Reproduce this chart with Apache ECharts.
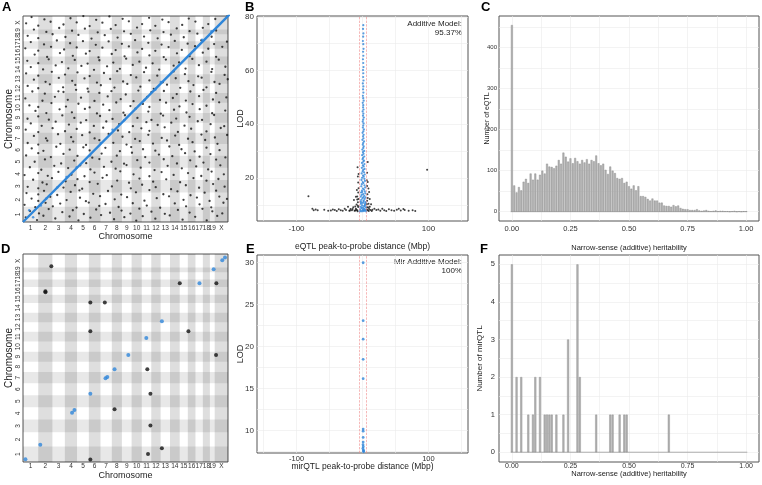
<!DOCTYPE html>
<html><head><meta charset="utf-8">
<script src="https://cdn.jsdelivr.net/npm/echarts@6/dist/echarts.min.js"></script>
<style>html,body{margin:0;padding:0;background:#fff}#c{width:762px;height:485px}</style>
</head><body><div id="c"></div>
<script>
// ---------- DATA ----------
const chromNames = ['1','2','3','4','5','6','7','8','9','10','11','12','13','14','15','16','17','18','19','X'];
const chromLengths = [195.5,182.1,160.0,156.5,151.8,149.7,145.4,129.4,124.6,130.7,122.1,120.1,120.4,124.9,104.0,98.2,95.0,90.7,61.4,171.0];

// Panel A: trans eQTL (probe position x, peak position y) in cumulative Mbp
const aTrans = [
[35,60],[180,25],[262,80],[415,45],[598,70],[712,20],[866,55],[1003,88],[1170,35],[1302,62],[1455,18],[1538,74],[1700,42],[1885,84],[2050,30],[2212,66],[2360,22],[2495,78],[2655,40],
[90,140],[205,110],[330,165],[505,125],[640,150],[781,102],[940,160],[1118,118],[1266,146],[1380,108],[1495,170],[1650,132],[1822,104],[1990,155],[2140,120],[2305,168],[2432,136],[2560,110],[2690,150],
[20,220],[158,190],[290,245],[383,200],[478,236],[688,185],[845,248],[980,206],[1060,230],[1228,192],[1410,240],[1590,210],[1762,182],[1950,238],[2095,200],[2268,226],[2418,188],[2575,246],[2708,205],
[110,300],[196,270],[350,322],[560,280],[732,310],[808,266],[990,330],[1178,290],[1337,318],[1560,272],[1718,305],[1876,328],[2062,284],[2234,312],[2397,270],[2522,325],[2620,295],
[45,370],[196,352],[270,398],[440,345],[612,385],[725,405],[902,360],[1092,396],[1262,350],[1451,380],[1624,408],[1803,355],[1984,392],[2152,342],[2333,375],[2481,400],[2642,360],
[60,450],[196,430],[305,482],[520,440],[668,470],[760,425],[960,488],[1142,455],[1385,430],[1530,476],[1705,445],[1902,420],[2092,470],[2262,438],[2442,485],[2590,452],[2715,428],
[130,540],[250,505],[372,560],[548,520],[700,548],[856,510],[1022,565],[1210,530],[1362,502],[1496,555],[1672,515],[1840,545],[2018,508],[2190,562],[2357,528],[2510,550],[2668,512],
[20,600],[196,625],[318,590],[455,640],[622,605],[790,585],[918,632],[1076,598],[1250,648],[1420,610],[1624,585],[1780,638],[1935,602],[2120,625],[2290,588],[2423,645],[2580,610],
[88,700],[235,668],[402,718],[580,690],[735,725],[866,672],[1040,705],[1190,682],[1330,728],[1512,695],[1690,664],[1858,718],[2040,686],[2225,710],[2378,672],[2535,724],[2700,690],
[150,770],[282,800],[490,748],[658,785],[812,752],[981,805],[1136,770],[1298,745],[1468,790],[1624,760],[1808,802],[1978,748],[2148,788],[2318,760],[2481,798],[2640,752],
[40,850],[196,880],[358,830],[520,870],[700,845],[890,822],[1010,875],[1205,848],[1400,885],[1570,830],[1746,862],[1918,842],[2082,880],[2268,835],[2408,868],[2600,826],[2712,860],
[112,940],[262,910],[428,962],[600,925],[775,955],[856,915],[1058,948],[1245,905],[1390,958],[1542,930],[1700,912],[1880,965],[2036,930],[2205,902],[2357,950],[2525,918],[2668,945],
[60,1010],[196,990],[312,1040],[480,1000],[645,1028],[810,985],[981,1046],[1160,1012],[1330,990],[1500,1035],[1670,1002],[1850,1042],[2006,985],[2178,1020],[2340,1048],[2498,1000],[2660,1030],
[140,1100],[295,1070],[450,1122],[618,1085],[760,1110],[920,1068],[1100,1125],[1278,1090],[1440,1062],[1610,1115],[1782,1075],[1955,1105],[2120,1064],[2292,1118],[2465,1080],[2622,1112],
[35,1180],[196,1150],[380,1200],[540,1160],[690,1190],[856,1145],[1030,1205],[1220,1170],[1365,1148],[1520,1198],[1624,1165],[1820,1210],[1990,1152],[2160,1192],[2357,1158],[2540,1202],[2700,1175],
[100,1260],[240,1230],[420,1282],[590,1245],[742,1270],[910,1228],[1070,1285],[1235,1250],[1412,1225],[1585,1276],[1730,1240],[1905,1270],[2075,1232],[2245,1288],[2410,1250],[2585,1225],
[58,1320],[196,1350],[332,1308],[505,1362],[660,1330],[812,1302],[990,1355],[1150,1318],[1310,1365],[1470,1330],[1650,1305],[1800,1360],[1968,1322],[2140,1345],[2300,1305],[2455,1368],[2640,1335],
[160,1420],[300,1392],[470,1440],[628,1402],[795,1445],[950,1388],[1110,1430],[1290,1398],[1445,1448],[1610,1412],[1770,1385],[1940,1435],[2100,1400],[2270,1442],[2430,1390],[2598,1425],
[82,1490],[196,1470],[365,1520],[552,1475],[712,1512],[856,1465],[1030,1500],[1198,1528],[1380,1482],[1540,1510],[1624,1470],[1838,1525],[2010,1478],[2178,1508],[2357,1486],[2520,1530],[2690,1494],
[30,1580],[250,1550],[410,1600],[575,1562],[745,1590],[918,1548],[1088,1605],[1255,1570],[1420,1545],[1596,1598],[1760,1560],[1925,1585],[2092,1552],[2262,1608],[2440,1566],[2612,1592],
[120,1668],[280,1640],[455,1670],[520,1662],[682,1690],[840,1666],[981,1650],[1136,1672],[1320,1630],[1482,1680],[1650,1660],[1810,1675],[1975,1635],[2150,1668],[2318,1688],[2481,1650],[2650,1672],
[60,1740],[196,1710],[345,1760],[515,1722],[672,1752],[830,1705],[1000,1748],[1175,1718],[1340,1765],[1508,1730],[1680,1702],[1850,1755],[2020,1715],[2190,1750],[2357,1722],[2525,1765],[2700,1730],
[140,1820],[290,1792],[460,1842],[632,1805],[790,1835],[950,1782],[1120,1828],[1286,1796],[1455,1848],[1624,1810],[1795,1786],[1962,1838],[2125,1800],[2295,1845],[2460,1790],[2630,1825],
[40,1900],[196,1870],[370,1920],[540,1885],[700,1912],[856,1866],[1040,1905],[1210,1928],[1385,1878],[1555,1915],[1725,1870],[1935,1925],[2080,1890],[2250,1862],[2420,1918],[2590,1880],
[100,1980],[258,1950],[420,2002],[582,1965],[750,1995],[912,1945],[1080,1990],[1245,1958],[1410,2008],[1580,1972],[1750,1948],[1935,1998],[2088,1962],[2260,2005],[2430,1955],[2600,1985],[2712,1960],
[55,2060],[196,2030],[330,2080],[500,2045],[665,2072],[830,2025],[981,2068],[1160,2038],[1325,2088],[1495,2050],[1665,2028],[1835,2076],[2005,2040],[2175,2085],[2357,2050],[2515,2075],[2680,2035],
[150,2140],[310,2110],[475,2160],[640,2125],[808,2152],[970,2105],[1140,2148],[1305,2118],[1470,2168],[1624,2130],[1808,2108],[1978,2156],[2140,2120],[2310,2165],[2481,2112],[2645,2148],
[30,2220],[196,2190],[360,2240],[528,2205],[690,2232],[856,2185],[1020,2228],[1190,2198],[1360,2245],[1530,2212],[1700,2188],[1870,2236],[2040,2200],[2210,2248],[2380,2215],[2560,2240],[2700,2195],
[100,2300],[270,2270],[435,2320],[605,2285],[770,2312],[935,2265],[1100,2308],[1270,2278],[1440,2325],[1610,2290],[1780,2268],[1950,2315],[2115,2280],[2290,2322],[2455,2275],[2620,2305],
[60,2380],[196,2350],[380,2400],[545,2365],[712,2392],[880,2345],[1050,2388],[1215,2358],[1385,2405],[1555,2370],[1730,2348],[1900,2395],[2065,2362],[2240,2408],[2423,2368],
[140,2460],[300,2430],[465,2480],[630,2445],[795,2472],[960,2425],[1128,2468],[1298,2438],[1465,2485],[1635,2450],[1805,2428],[1975,2475],[2140,2440],[2310,2482],[2481,2448],[2640,2470],[2710,2430],
[40,2540],[196,2510],[355,2560],[520,2525],[690,2552],[856,2505],[1020,2548],[1190,2518],[1360,2565],[1530,2530],[1700,2508],[1870,2555],[2045,2520],[2215,2562],[2380,2530],
[110,2620],[275,2590],[440,2640],[610,2605],[775,2632],[940,2585],[1110,2628],[1280,2598],[1450,2645],[1620,2610],[1790,2588],[1960,2635],[2130,2600],[2300,2642],[2470,2595],[2620,2625],
[60,2700],[230,2670],[400,2712],[570,2680],[740,2705],[905,2665],[1075,2700],[1245,2675],[1415,2715],[1585,2685],[1755,2668],[1925,2710],[2095,2678],[2265,2715],[2435,2690]
];
// Panel A: cis eQTL diagonal ends and off-line cis points
const aCisLine = [[0,0],[2728,2728]];
const aCis = [[80,150],[130,60],[230,210],[300,300],[440,440],[560,575],[690,700],[860,850],[1000,1010],[1150,1180],[1300,1300],[1560,1560],[1700,1690],[1770,1790],[2200,2200],[2300,2330],[2420,2440]];

// Panel B: eQTL peak-to-probe distance (Mbp) vs LOD
const bCis = [
[1.2,76.9],[0.8,75.5],[1.4,73.8],[1.0,72.6],[0.6,71.0],[1.2,69.8],[1.6,68.1],[0.9,67.0],[1.3,65.5],[0.7,64.2],[1.1,62.8],[1.5,61.3],[0.8,60.2],[1.2,59.0],[1.0,57.6],[1.6,56.3],[0.5,55.2],[1.3,54.1],[0.9,53.0],[1.4,51.8],[0.6,50.6],[1.1,49.7],
[1.8,48.8],[0.4,48.0],[1.2,47.1],[0.9,46.3],[1.6,45.5],[0.2,44.8],[1.4,44.0],[0.7,43.2],[2.0,42.5],[1.0,41.7],[0.3,41.0],[1.7,40.3],[1.1,39.5],[0.5,38.8],[2.1,38.1],[1.3,37.4],[0.1,36.8],[1.8,36.1],[0.8,35.5],[1.5,34.8],[-0.2,34.2],[2.3,33.6],[1.0,33.0],[0.4,32.4],[1.9,31.8],[1.2,31.2],[-0.3,30.6],[2.5,30.1],[0.7,29.6],
[1.6,29.0],[-0.5,28.5],[2.6,28.0],[0.9,27.5],[0.1,27.0],[2.2,26.5],[1.4,26.1],[-0.8,25.6],[2.9,25.2],[0.5,24.7],[1.8,24.3],[-1.0,23.8],[3.1,23.4],[1.1,23.0],[0.2,22.5],[2.4,22.1],[-1.3,21.7],[3.4,21.3],[0.8,20.9],[1.9,20.5],[-0.6,20.1],[2.8,19.7],[-1.6,19.3],[3.7,18.9],[0.3,18.5],[1.5,18.1],[-1.1,17.7],[3.0,17.3],[-1.9,16.9],[4.0,16.5],[0.6,16.1],[2.2,15.7],[-0.9,15.3],[3.5,15.0],
[-2.2,14.6],[4.3,14.3],[1.0,14.0],[-1.4,13.7],[2.7,13.4],[-2.6,13.1],[4.6,12.8],[0.0,12.5],[3.2,12.2],[-1.8,11.9],[1.8,11.6],[-3.0,11.3],[4.9,11.0],[0.6,10.7],[-2.4,10.4],[3.8,10.1],[-0.6,9.8],[2.4,9.5],[-3.4,9.3],[5.2,9.1],[1.2,8.9],[-1.5,8.7],[3.0,8.5],[-3.8,8.3],[4.4,8.1],[0.3,7.95],[-2.8,7.8],[2.0,7.7],[-0.9,7.6],[5.5,7.55],[-4.2,7.5],[3.6,9.7],[-2.0,10.9],[1.5,12.9],[-0.4,14.8],[2.9,7.9],[0.9,8.3],[-1.2,9.1],[4.0,10.6],[1.7,11.2]
];
const bTrans = [
[-8,8.0],[-10,8.6],[-6.5,9.2],[-9,10.1],[-7,11.0],[-11,9.4],[-6,12.2],[-8,13.1],[-6.5,14.6],[-9.5,8.2],[-12,7.8],[-7.5,7.6],[8,8.0],[10,8.5],[7,9.1],[9,10.4],[11,9.3],[7,11.5],[8,12.6],[7.5,14.0],[12,8.1],[9.5,7.7],[6.5,8.3],[-6,16.2],[-6.5,18.3],[7,17.0],[6.5,19.2],[-7,20.6],[7,22.0],[-6,21.5],[9,16.1],[-10,13.0],[13,10.2],[-14,9.1],[15,8.2],[-16,8.0],[18,8.6],[-19,7.9],[21,8.1],[-13,11.8],[11,12.2],[-8.5,15.5],[10,14.8],[-11,7.9],[6.5,10.2],[-7,9.7],[14,7.7],[-15,8.5],[8,18.5],[-7.5,24],[8,26],[-8,12],[9,9],
[-76,8.6],[-74,8.0],[-71,8.3],[-68,8.0],[-48,7.9],[-45,8.3],[-42,8.1],[-39,7.7],[-36,8.4],[-33,8.0],[-30,7.8],[-27,8.6],[-25,8.1],[-22,9.3],[-20,7.8],[-18,8.5],[24,8.3],[27,7.8],[30,8.6],[33,8.0],[36,7.7],[40,8.4],[44,8.0],[48,7.8],[52,8.2],[55,8.6],[58,7.9],[64,8.1],[70,7.8],[76,8.0],[80,7.7],[-58,8.2],[-52,7.8],[62,8.5],[-82,13.2],[98,23.1]
];
const cisWindow = [-5, 5];
const bAnnot = ['Additive Model:', '95.37%'];

// Panel C: histogram of eQTL narrow-sense heritability, bins of 0.01 starting at 0
const histBinStart = 0, histBinWidth = 0.01;
const cCounts = [455,64,47,60,52,73,80,70,93,78,93,78,90,100,93,117,110,109,106,112,126,117,144,134,122,130,118,131,123,117,126,120,128,117,126,123,137,118,113,117,102,92,110,100,94,82,80,82,70,73,62,56,64,52,62,38,38,36,31,27,32,27,27,22,22,15,14,14,12,16,13,15,9,7,6,6,4,4,4,6,3,2,3,4,2,1,2,3,1,2,2,1,1,0,1,2,0,1,0,1,1];

// Panel D: mirQTL positions (cumulative Mbp)
const dCis = [[31,35],[222,219],[630,623],[661,658],[865,864],[1060,1061],[1083,1075],[1176,1175],[1353,1355],[1584,1570],[1784,1781],[2267,2263],[2449,2439],[2560,2553],[2595,2588],[2644,2636]];
const dTrans = [[364,2478],[288,2149],[288,2162],[865,2018],[1051,2018],[2014,2263],[2484,2263],[865,1654],[2125,1654],[2480,1355],[1597,1175],[1637,864],[1176,667],[1637,461],[1784,175],[1606,101],[865,31]];

// Panel E: mirQTL peak-to-probe distance vs LOD
const eCis = [[1,30],[1,23.1],[1,20.9],[1,18.5],[1,16.2],[1,10.2],[1,9.95],[1,9.2],[1,8.65],[0.8,8.33],[1.2,8.1],[0.6,7.9],[1.3,7.7],[1.5,7.5],[1.8,7.6]];
const eAnnot = ['Mir Additive Model:', '100%'];

// Panel F: histogram of mirQTL heritability (bin index -> count)
const fBins   = [0,2,4,7,9,10,12,14,15,16,17,19,22,24,28,29,36,42,43,46,48,49,67];
const fCounts = [5,2,2,1,1,2,2,1,1,1,1,1,1,3,5,2,1,1,1,1,1,1,1];

// ---------- BUILD ----------
const FONT = 'Liberation Sans, Arial, Helvetica, sans-serif';
const BLUE = '#2f86d9';
const offsets = []; let acc = 0;
chromLengths.forEach(l => { offsets.push(acc); acc += l; });
const genomeLen = acc;
const mids = chromLengths.map((l,i) => offsets[i] + l/2);
const nameAt = v => { let bi=0, bd=1e9; mids.forEach((m,i)=>{const d=Math.abs(m-v); if(d<bd){bd=d;bi=i;}}); return chromNames[bi]; };

function bandSeries(xi) {
  const data = [];
  chromLengths.forEach((l,i) => {
    if (i % 2 === 1) data.push([{xAxis: offsets[i], itemStyle:{color:'rgba(0,0,0,0.13)'}}, {xAxis: offsets[i]+l}]);
    if (i % 2 === 0) data.push([{yAxis: offsets[i], itemStyle:{color:'rgba(0,0,0,0.09)'}}, {yAxis: offsets[i]+l}]);
  });
  return {type:'scatter', xAxisIndex:xi, yAxisIndex:xi, data:[], z:1, silent:true,
    markArea:{silent:true, data, itemStyle:{borderWidth:0, opacity:1}}};
}
function chromAxis(gi, isY, gap, fs, lm) {
  return {type:'value', gridIndex:gi, min:0, max:genomeLen,
    axisLine:{show:false}, axisTick:{show:false}, splitLine:{show:false},
    axisLabel:{customValues:mids, formatter:v=>nameAt(v), fontSize:6.5, color:'#333', margin:lm, rotate:isY?90:0, fontFamily:FONT},
    name:'Chromosome', nameLocation:'middle', nameGap:gap, nameMoveOverlap:false,
    nameTextStyle:{fontSize:fs, color:'#222', fontFamily:FONT}};
}
function valAxis(gi, min, max, ticks, labels, fmt, name, gap, fs, lfs, margin) {
  return {type:'value', gridIndex:gi, min, max,
    axisLine:{show:false}, axisTick:{show:false, customValues:ticks},
    splitLine:{show:true, lineStyle:{color:'#ebebeb', width:0.6}},
    axisLabel:{customValues:labels, formatter:fmt, fontSize:lfs, color:'#333', margin, fontFamily:FONT},
    name, nameLocation:'middle', nameGap:gap, nameMoveOverlap:false,
    nameTextStyle:{fontSize:fs, color:'#222', fontFamily:FONT}};
}
const gridStyle = {show:true, borderColor:'#555', borderWidth:1, backgroundColor:'#fff'};
const distTicks = [-150,-100,-50,0,50,100,150];
const herTicks = [0,0.125,0.25,0.375,0.5,0.625,0.75,0.875,1];
const fmt2 = v => v.toFixed(2);
const cData = cCounts.map((c,i) => [histBinStart + i*histBinWidth, c]);
const fData = fBins.map((b,i) => [histBinStart + b*histBinWidth, fCounts[i]]);
const barStyle = {color:'#b2b2b2', borderColor:'#858585', borderWidth:0.4};
const zeroLine = [[-0.005,0],[1.005,0]];
const cisMarkLine = {silent:true, symbol:'none', label:{show:false},
  lineStyle:{color:'#f08a8a', type:'dashed', width:0.6}, data: cisWindow.map(v=>({xAxis:v}))};

const option = {
  animation:false,
  textStyle:{fontFamily:FONT},
  grid:[
    Object.assign({left:23, top:16, width:205, height:206}, gridStyle),
    Object.assign({left:257, top:16, width:211, height:205}, gridStyle),
    Object.assign({left:499, top:16, width:260, height:205}, gridStyle),
    Object.assign({left:23, top:254, width:205, height:208}, gridStyle),
    Object.assign({left:257, top:255, width:211, height:198}, gridStyle),
    Object.assign({left:499, top:255, width:260, height:207}, gridStyle)
  ],
  xAxis:[
    chromAxis(0,false,10.5,9,3),
    valAxis(1,-160,160,distTicks,[-100,100],v=>String(v),'eQTL peak-to-probe distance (Mbp)',21,8.5,8,4),
    valAxis(2,-0.055,1.055,herTicks,[0,0.25,0.5,0.75,1],fmt2,'Narrow-sense (additive) heritability',22.5,7.5,7.5,4),
    chromAxis(3,false,9.5,9,0.5),
    valAxis(4,-160,160,distTicks,[-100,100],v=>String(v),'mirQTL peak-to-probe distance (Mbp)',9.5,8.5,7.5,1.5),
    valAxis(5,-0.055,1.055,herTicks,[0,0.25,0.5,0.75,1],fmt2,'Narrow-sense (additive) heritability',7.5,7.5,7,1)
  ],
  yAxis:[
    chromAxis(0,true,8.5,10,1.5),
    valAxis(1,4,80.3,[10,20,30,40,50,60,70,80],[20,40,60,80],v=>String(v),'LOD',11.5,9,8,3),
    valAxis(2,-22.7,477,[0,50,100,150,200,250,300,350,400,450],[0,100,200,300,400],v=>String(v),'Number of eQTL',8.5,7,6,2),
    chromAxis(3,true,8.5,10,1.5),
    valAxis(4,7.35,30.92,[7.5,10,12.5,15,17.5,20,22.5,25,27.5,30],[10,15,20,25,30],v=>String(v),'LOD',11.5,9,8,3),
    valAxis(5,-0.26,5.25,[0,0.5,1,1.5,2,2.5,3,3.5,4,4.5,5],[0,1,2,3,4,5],v=>String(v),'Number of mirQTL',15,8,7.5,4)
  ],
  series:[
    bandSeries(0),
    {type:'scatter', xAxisIndex:0, yAxisIndex:0, data:aTrans, symbolSize:2.3, itemStyle:{color:'#111'}, z:3, silent:true},
    {type:'line', xAxisIndex:0, yAxisIndex:0, data:aCisLine, symbol:'none', lineStyle:{color:BLUE, width:2.4}, z:4, silent:true},
    {type:'scatter', xAxisIndex:0, yAxisIndex:0, data:aCis, symbolSize:2.5, itemStyle:{color:BLUE}, z:4, silent:true},

    {type:'scatter', xAxisIndex:1, yAxisIndex:1, data:bTrans, symbolSize:2, itemStyle:{color:'#111'}, z:3, silent:true, markLine:cisMarkLine},
    {type:'scatter', xAxisIndex:1, yAxisIndex:1, data:bCis, symbolSize:2.2, itemStyle:{color:BLUE}, z:4, silent:true},

    {type:'bar', xAxisIndex:2, yAxisIndex:2, data:cData, barWidth:1.9, itemStyle:barStyle, z:3, silent:true},
    {type:'line', xAxisIndex:2, yAxisIndex:2, data:zeroLine, symbol:'none', lineStyle:{color:'#9a9a9a', width:0.8}, z:2, silent:true},

    bandSeries(3),
    {type:'scatter', xAxisIndex:3, yAxisIndex:3, data:dTrans, symbolSize:4, itemStyle:{color:'#111'}, z:3, silent:true},
    {type:'scatter', xAxisIndex:3, yAxisIndex:3, data:dCis, symbolSize:4, itemStyle:{color:BLUE}, z:4, silent:true},

    {type:'scatter', xAxisIndex:4, yAxisIndex:4, data:eCis, symbolSize:2.8, itemStyle:{color:BLUE}, z:4, silent:true, markLine:cisMarkLine},

    {type:'bar', xAxisIndex:5, yAxisIndex:5, data:fData, barWidth:2, itemStyle:barStyle, z:3, silent:true},
    {type:'line', xAxisIndex:5, yAxisIndex:5, data:zeroLine, symbol:'none', lineStyle:{color:'#9a9a9a', width:0.8}, z:2, silent:true}
  ],
  graphic:[
    {type:'text', left:2, top:1, style:{text:'A', font:'bold 13px '+FONT, fill:'#000'}},
    {type:'text', left:245, top:1, style:{text:'B', font:'bold 13px '+FONT, fill:'#000'}},
    {type:'text', left:481, top:1, style:{text:'C', font:'bold 13px '+FONT, fill:'#000'}},
    {type:'text', left:1, top:243, style:{text:'D', font:'bold 13px '+FONT, fill:'#000'}},
    {type:'text', left:246, top:243, style:{text:'E', font:'bold 13px '+FONT, fill:'#000'}},
    {type:'text', left:480, top:243, style:{text:'F', font:'bold 13px '+FONT, fill:'#000'}},
    {type:'text', x:462, y:24, style:{text:bAnnot[0], font:'8px '+FONT, fill:'#222', align:'right', verticalAlign:'middle'}},
    {type:'text', x:462, y:33, style:{text:bAnnot[1], font:'8px '+FONT, fill:'#222', align:'right', verticalAlign:'middle'}},
    {type:'text', x:462, y:262, style:{text:eAnnot[0], font:'8px '+FONT, fill:'#222', align:'right', verticalAlign:'middle'}},
    {type:'text', x:462, y:271, style:{text:eAnnot[1], font:'8px '+FONT, fill:'#222', align:'right', verticalAlign:'middle'}}
  ]
};
const chart = echarts.init(document.getElementById('c'), null, {renderer:'canvas'});
chart.setOption(option);
</script>
</body></html>
